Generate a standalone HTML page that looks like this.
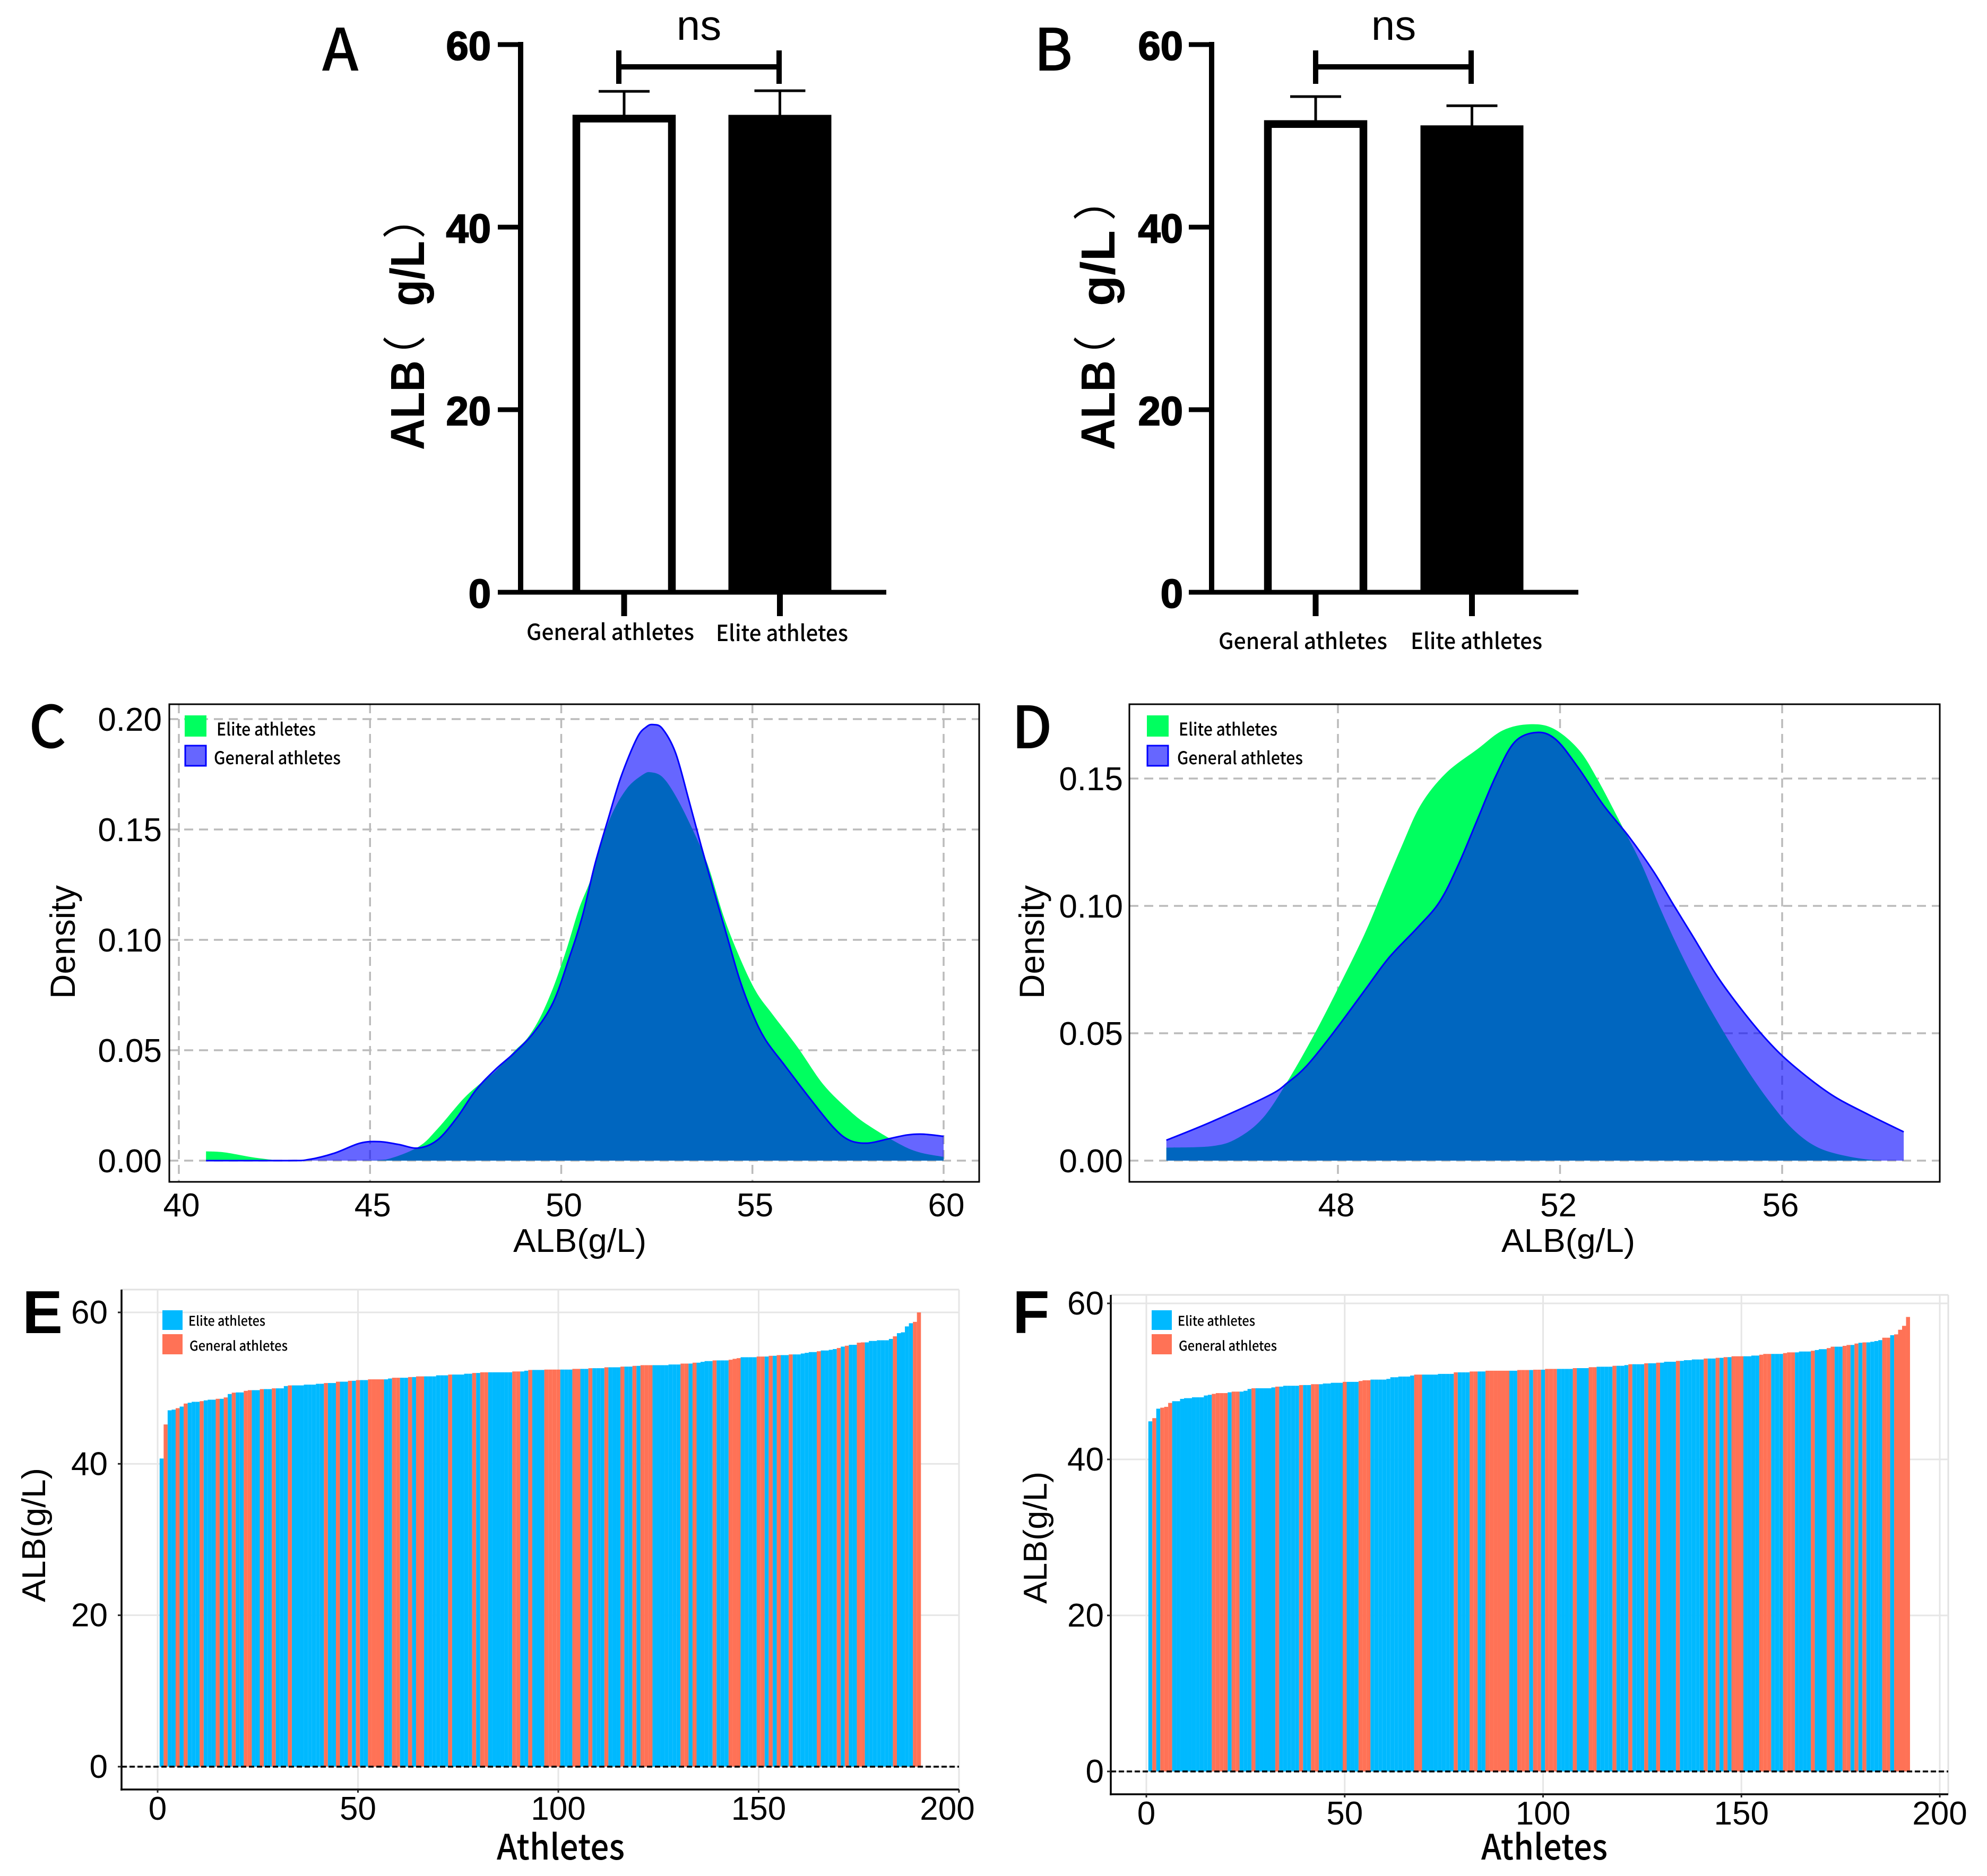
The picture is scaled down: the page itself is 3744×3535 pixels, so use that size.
<!DOCTYPE html>
<html lang="en">
<head>
<meta charset="utf-8">
<title>ALB comparison of elite and general athletes</title>
<style>
html,body{margin:0;padding:0;background:#fff;}
svg{display:block;}
text{fill:#000;}
.sans{font-family:"Liberation Sans",sans-serif;}
.boldlabel{font-family:"Liberation Sans","Noto Sans CJK SC",sans-serif;font-weight:700;}
.heavy{stroke:#000;stroke-width:2px;}
.paren{font-family:"Noto Sans CJK SC","Liberation Sans",sans-serif;font-weight:400;}
.noto{font-family:"Noto Sans CJK SC","Liberation Sans",sans-serif;font-weight:500;}
.letter{font-family:"Noto Sans CJK SC","Liberation Sans",sans-serif;font-weight:500;font-size:110px;}
.letterb{font-family:"Liberation Sans",sans-serif;font-weight:700;font-size:114px;}
</style>
</head>
<body>
<svg id="figure" xmlns="http://www.w3.org/2000/svg" width="3744" height="3535" viewBox="0 0 3744 3535">
  <rect x="0" y="0" width="3744" height="3535" fill="#fff"/>

  <g id="panelA">
    <text class="letter" x="607" y="133">A</text>
    <g>
      <text class="boldlabel" font-size="90" textLength="169" lengthAdjust="spacingAndGlyphs" transform="translate(799,848) rotate(-90)">ALB</text>
      <text class="paren" font-size="82" transform="translate(792,714) rotate(-90)">（</text>
      <text class="boldlabel" font-size="90" textLength="123" lengthAdjust="spacingAndGlyphs" transform="translate(799,577) rotate(-90)">g/L</text>
      <text class="paren" font-size="82" transform="translate(792,450) rotate(-90)">）</text>
    </g>
    <g id="marksA"></g>
    <text class="noto" font-size="42" x="992" y="1206" textLength="316" lengthAdjust="spacingAndGlyphs">General athletes</text>
    <text class="noto" font-size="42" x="1349" y="1208" textLength="249" lengthAdjust="spacingAndGlyphs">Elite athletes</text>
    <g>
      <line x1="1166" x2="1468" y1="126" y2="126" stroke="#000" stroke-width="10"/>
      <line x1="1166" x2="1166" y1="95" y2="158" stroke="#000" stroke-width="10"/>
      <line x1="1468" x2="1468" y1="95" y2="158" stroke="#000" stroke-width="10"/>
      <text class="sans" font-size="80" x="1317" y="75" text-anchor="middle">ns</text>
    </g>
  </g>

  <g id="panelB">
    <text class="letter" x="1948" y="133">B</text>
    <g>
      <text class="boldlabel" font-size="90" textLength="169" lengthAdjust="spacingAndGlyphs" transform="translate(2100,848) rotate(-90)">ALB</text>
      <text class="paren" font-size="82" transform="translate(2093,714) rotate(-90)">（</text>
      <text class="boldlabel" font-size="90" textLength="143" lengthAdjust="spacingAndGlyphs" transform="translate(2100,577) rotate(-90)">g/L</text>
      <text class="paren" font-size="82" transform="translate(2093,416) rotate(-90)">）</text>
    </g>
    <g id="marksB"></g>
    <text class="noto" font-size="42" x="2296" y="1223" textLength="318" lengthAdjust="spacingAndGlyphs">General athletes</text>
    <text class="noto" font-size="42" x="2658" y="1223" textLength="248" lengthAdjust="spacingAndGlyphs">Elite athletes</text>
    <g>
      <line x1="2479" x2="2772" y1="126" y2="126" stroke="#000" stroke-width="10"/>
      <line x1="2479" x2="2479" y1="95" y2="158" stroke="#000" stroke-width="10"/>
      <line x1="2772" x2="2772" y1="95" y2="158" stroke="#000" stroke-width="10"/>
      <text class="sans" font-size="80" x="2626" y="75" text-anchor="middle">ns</text>
    </g>
  </g>

  <g id="panelC">
    <text class="letter" x="54" y="1409">C</text>
    <g id="marksC"></g>
    <rect x="319" y="1327" width="1526" height="900" fill="none" stroke="#000" stroke-width="3"/>
    <text class="sans" font-size="62" x="967" y="2359" textLength="251" lengthAdjust="spacingAndGlyphs">ALB(g/L)</text>
    <text class="sans" font-size="66" textLength="214" lengthAdjust="spacingAndGlyphs" transform="translate(141,1882) rotate(-90)">Density</text>
    <g>
      <rect x="348" y="1348" width="41" height="40" fill="#00FF5F"/>
      <rect x="349" y="1405" width="39" height="38" fill="#6666FF" stroke="#0000FF" stroke-width="3"/>
      <text class="noto" font-size="33" x="408" y="1386" textLength="187" lengthAdjust="spacingAndGlyphs">Elite athletes</text>
      <text class="noto" font-size="33" x="403" y="1440" textLength="239" lengthAdjust="spacingAndGlyphs">General athletes</text>
    </g>
  </g>

  <g id="panelD">
    <text class="letter" x="1906" y="1410">D</text>
    <g id="marksD"></g>
    <rect x="2128" y="1327" width="1527" height="900" fill="none" stroke="#000" stroke-width="3"/>
    <text class="sans" font-size="62" x="2829" y="2359" textLength="252" lengthAdjust="spacingAndGlyphs">ALB(g/L)</text>
    <text class="sans" font-size="66" textLength="214" lengthAdjust="spacingAndGlyphs" transform="translate(1967,1882) rotate(-90)">Density</text>
    <g>
      <rect x="2161" y="1348" width="41" height="40" fill="#00FF5F"/>
      <rect x="2162" y="1405" width="39" height="38" fill="#6666FF" stroke="#0000FF" stroke-width="3"/>
      <text class="noto" font-size="33" x="2221" y="1386" textLength="186" lengthAdjust="spacingAndGlyphs">Elite athletes</text>
      <text class="noto" font-size="33" x="2218" y="1440" textLength="237" lengthAdjust="spacingAndGlyphs">General athletes</text>
    </g>
  </g>

  <g id="panelE">
    <text class="letterb" x="42" y="2512">E</text>
    <g id="marksE"></g>
    <text class="noto" font-size="66" x="936" y="3504" textLength="241" lengthAdjust="spacingAndGlyphs">Athletes</text>
    <text class="sans" font-size="62" textLength="253" lengthAdjust="spacingAndGlyphs" transform="translate(85,3019) rotate(-90)">ALB(g/L)</text>
    <g>
      <rect x="306" y="2469" width="38" height="37" fill="#00B9FF"/>
      <rect x="306" y="2514" width="38" height="38" fill="#FF7256"/>
      <text class="noto" font-size="25" x="355" y="2498" textLength="145" lengthAdjust="spacingAndGlyphs">Elite athletes</text>
      <text class="noto" font-size="25" x="357" y="2545" textLength="185" lengthAdjust="spacingAndGlyphs">General athletes</text>
    </g>
  </g>

  <g id="panelF">
    <text class="letterb" x="1908" y="2512">F</text>
    <g id="marksF"></g>
    <text class="noto" font-size="66" x="2791" y="3504" textLength="238" lengthAdjust="spacingAndGlyphs">Athletes</text>
    <text class="sans" font-size="62" textLength="249" lengthAdjust="spacingAndGlyphs" transform="translate(1972,3022) rotate(-90)">ALB(g/L)</text>
    <g>
      <rect x="2170" y="2469" width="38" height="37" fill="#00B9FF"/>
      <rect x="2170" y="2514" width="38" height="38" fill="#FF7256"/>
      <text class="noto" font-size="25" x="2219" y="2498" textLength="146" lengthAdjust="spacingAndGlyphs">Elite athletes</text>
      <text class="noto" font-size="25" x="2221" y="2545" textLength="185" lengthAdjust="spacingAndGlyphs">General athletes</text>
    </g>
  </g>
</svg>

<script>
/* ---------- Panels A / B data ---------- */
var meansA = [52.3, 52.3];
var errorTopsA = [54.88, 54.94];
var meansB = [51.7, 51.15];
var errorTopsB = [54.3, 53.3];
var barTickValues = [0, 20, 40, 60];
var barTickLabels = ['0', '20', '40', '60'];

/* ---------- Panel C density data ---------- */
var cEliteX = [40.71,41.21,42.05,42.89,44.74,45.42,46.26,46.76,47.43,47.86,48.28,48.78,49.12,49.45,49.79,50.13,50.46,50.77,50.97,51.3,51.72,52.14,52.35,52.65,52.99,53.41,53.83,54.25,54.67,55.09,55.51,56.18,56.85,57.53,58.03,58.87,59.38,60];
var cEliteY = [.0042,.0037,.0012,0,0,.0005,.0062,.0143,.0278,.0346,.0405,.0497,.0556,.0649,.0784,.0953,.1138,.1273,.1391,.156,.1686,.1749,.1759,.1737,.1653,.1509,.1341,.1105,.0919,.0767,.0666,.0514,.0346,.0228,.016,.0073,.0037,.0017];
var cGeneralX = [40.71,42.89,43.4,44.07,44.74,45.25,45.75,46.26,46.76,47.27,47.77,48.28,48.78,49.29,49.79,50.21,50.55,50.88,51.22,51.56,51.98,52.23,52.41,52.65,52.99,53.32,53.66,53.99,54.33,54.67,55,55.34,55.85,56.52,57.11,57.53,58,58.54,59.04,59.46,60];
var cGeneralY = [0,0,.0005,.0034,.0079,.0086,.0073,.0057,.0093,.0194,.032,.0413,.0489,.0582,.0717,.0919,.1105,.1341,.1543,.1737,.1914,.1965,.1975,.1956,.1847,.1644,.1425,.1223,.102,.0818,.0666,.0548,.043,.0278,.0152,.0093,.0079,.0098,.0116,.012,.011];
var cTicksX = [40,45,50,55,60];
var cTickLabelsX = ['40','45','50','55','60'];
var cTicksY = [0,.05,.1,.15,.2];
var cTickLabelsY = ['0.00','0.05','0.10','0.15','0.20'];

/* ---------- Panel D density data ---------- */
var dEliteX = [44.91,45.74,46.19,46.65,47.1,47.56,48.01,48.47,48.81,49.15,49.49,49.94,50.51,50.97,51.45,51.88,52.33,52.67,53.13,53.47,53.81,54.15,54.49,54.83,55.28,55.74,56.19,56.65,57.22,57.78,58.19];
var dEliteY = [.0051,.0057,.0088,.0168,.0314,.049,.068,.0885,.106,.1235,.1396,.152,.1615,.1689,.1713,.1696,.1615,.1499,.1308,.1162,.0987,.0826,.068,.0548,.0387,.0241,.0124,.0051,.0015,0,0];
var dGeneralX = [44.91,45.74,46.76,47.1,47.44,47.9,48.47,48.92,49.43,49.83,50.17,50.51,50.85,51.19,51.59,51.93,52.33,52.78,53.24,53.69,54.03,54.38,54.83,55.28,55.74,56.19,56.88,57.56,58.19];
var dGeneralY = [.008,.0154,.0256,.0307,.0373,.0497,.0665,.0797,.0914,.1016,.1162,.1338,.1513,.1645,.1681,.1652,.1542,.1396,.1272,.1133,.1009,.0885,.0724,.059,.047,.0375,.026,.018,.0113];
var dTicksX = [48,52,56];
var dTickLabelsX = ['48','52','56'];
var dTicksY = [0,.05,.1,.15];
var dTickLabelsY = ['0.00','0.05','0.10','0.15'];

/* ---------- Panel E ranked bars ---------- */
var eValues = [
40.7,45.2,47.07,47.16,47.35,47.56,47.96,48.07,48.19,48.19,
48.28,48.38,48.47,48.47,48.59,48.59,48.77,49.22,49.4,49.43,
49.43,49.64,49.73,49.73,49.73,49.87,49.87,49.87,49.97,49.97,
49.97,50.27,50.36,50.36,50.36,50.36,50.46,50.46,50.46,50.57,
50.57,50.67,50.67,50.67,50.85,50.85,50.85,50.97,50.97,51.06,
51.06,51.06,51.16,51.16,51.16,51.16,51.16,51.27,51.37,51.37,
51.37,51.37,51.46,51.46,51.55,51.55,51.55,51.55,51.55,51.69,
51.69,51.69,51.79,51.79,51.79,51.79,51.9,51.9,52,52,
52.09,52.09,52.09,52.09,52.09,52.09,52.09,52.09,52.2,52.2,
52.2,52.3,52.4,52.4,52.4,52.4,52.45,52.45,52.45,52.45,
52.45,52.45,52.45,52.54,52.54,52.54,52.54,52.63,52.63,52.63,
52.63,52.75,52.75,52.75,52.75,52.84,52.84,52.84,52.94,52.94,
53.03,53.03,53.03,53.03,53.03,53.03,53.03,53.12,53.12,53.12,
53.24,53.24,53.24,53.36,53.36,53.47,53.57,53.57,53.66,53.66,
53.66,53.66,53.75,53.87,53.96,54.08,54.08,54.08,54.08,54.17,
54.17,54.17,54.27,54.27,54.36,54.36,54.36,54.45,54.45,54.45,
54.57,54.66,54.76,54.76,54.87,54.97,54.97,55.06,55.16,55.3,
55.48,55.6,55.72,55.72,56,56.04,56.04,56.23,56.23,56.32,
56.32,56.32,56.5,56.84,57.26,57.37,58.15,58.57,58.75,60];
/* alternating group run lengths, starting with Elite */
var eGroupRuns = [1,1,2,1,1,1,3,1,3,1,1,1,1,1,2,2,2,1,2,1,3,1,8,1,2,1,2,1,1,1,2,4,2,2,2,1,1,2,6,1,5,1,1,2,6,2,2,1,3,4,3,2,2,1,3,1,3,1,2,1,1,3,7,2,1,1,4,1,3,3,4,2,1,1,1,1,2,1,6,1,4,1,1,1,2,2,7,1,4,2];

/* ---------- Panel F ranked bars ---------- */
var fValues = [
44.88,45.29,46.5,46.63,46.74,47.24,47.46,47.46,47.76,47.85,
47.85,47.96,47.96,47.96,48.19,48.28,48.4,48.5,48.5,48.5,
48.6,48.69,48.69,48.69,48.8,49.03,49.12,49.12,49.12,49.12,
49.12,49.23,49.33,49.33,49.44,49.44,49.44,49.44,49.53,49.53,
49.53,49.64,49.64,49.64,49.73,49.73,49.82,49.82,49.82,49.94,
49.94,49.94,49.94,50.05,50.14,50.14,50.23,50.23,50.23,50.23,
50.32,50.53,50.53,50.62,50.62,50.62,50.75,50.87,50.87,50.87,
50.87,50.87,50.87,50.96,50.96,50.96,50.96,51.16,51.16,51.16,
51.16,51.27,51.27,51.27,51.27,51.37,51.37,51.37,51.37,51.37,
51.37,51.37,51.37,51.46,51.46,51.46,51.46,51.5,51.5,51.5,
51.6,51.6,51.6,51.6,51.6,51.6,51.6,51.7,51.7,51.7,
51.7,51.82,51.82,51.88,51.88,51.88,51.88,52,52,52,
52.09,52.2,52.2,52.2,52.2,52.32,52.32,52.32,52.4,52.4,
52.52,52.52,52.52,52.63,52.63,52.72,52.72,52.81,52.81,52.81,
52.93,52.93,52.93,53.02,53.02,53.11,53.11,53.22,53.22,53.22,
53.22,53.22,53.31,53.31,53.42,53.52,53.52,53.52,53.52,53.52,
53.63,53.72,53.72,53.72,53.83,53.83,53.83,53.93,54.02,54.13,
54.13,54.27,54.45,54.45,54.45,54.56,54.67,54.67,54.85,54.95,
55,55,55.08,55.17,55.29,55.6,55.6,55.92,56.03,56.62,57.12,58.26];
var fGroupRuns = [1,1,1,3,10,4,1,2,3,1,5,1,5,1,2,2,6,1,3,3,11,2,8,1,3,2,2,6,2,3,1,2,1,3,4,1,3,2,4,1,3,1,3,1,2,1,4,1,6,1,2,1,1,1,1,3,4,3,3,3,4,1,3,2,2,2,1,1,1,1,4,2,1,4];
var rankTicksX = [0,50,100,150,200];
var rankTickLabelsX = ['0','50','100','150','200'];
var rankTicksY = [0,20,40,60];
var rankTickLabelsY = ['0','20','40','60'];

/* ---------- helpers ---------- */
var SVG_NS = 'http://www.w3.org/2000/svg';
function make(tag, parentId, attrs) {
  var node = document.createElementNS(SVG_NS, tag);
  for (var key in attrs) { node.setAttribute(key, attrs[key]); }
  document.getElementById(parentId).appendChild(node);
  return node;
}
function scale(d0, r0, d1, r1) {
  return function (v) { return r0 + (v - d0) * (r1 - r0) / (d1 - d0); };
}
function smoothPath(xs, ys, sx, sy) {
  var pts = xs.map(function (x, i) { return [sx(x), sy(ys[i])]; });
  var d = 'M' + pts[0][0].toFixed(1) + ' ' + pts[0][1].toFixed(1);
  for (var i = 0; i < pts.length - 1; i++) {
    var p0 = pts[Math.max(i - 1, 0)], p1 = pts[i], p2 = pts[i + 1], p3 = pts[Math.min(i + 2, pts.length - 1)];
    var c1x = p1[0] + (p2[0] - p0[0]) / 6, c1y = Math.min(sy(0), p1[1] + (p2[1] - p0[1]) / 6);
    var c2x = p2[0] - (p3[0] - p1[0]) / 6, c2y = Math.min(sy(0), p2[1] - (p3[1] - p1[1]) / 6);
    d += 'C' + c1x.toFixed(1) + ' ' + c1y.toFixed(1) + ' ' + c2x.toFixed(1) + ' ' + c2y.toFixed(1) + ' ' + p2[0].toFixed(1) + ' ' + p2[1].toFixed(1);
  }
  return d;
}

/* ---------- Panels A / B: bars with error bars ---------- */
function drawBarPanel(id, means, errorTops, axisX, tickLeft, axisRight, labelRight, centers) {
  var y = scale(0, 1116, 60, 84);
  var parent = 'marks' + id;
  var k;
  for (k = 0; k < means.length; k++) {
    var top = y(means[k]);
    var errTop = y(errorTops[k]);
    var err = make('line', parent, {x1: centers[k], x2: centers[k], y1: errTop, y2: top + 2, stroke: '#000', 'stroke-width': 5});
    
    
    var cap = make('line', parent, {x1: centers[k] - 48, x2: centers[k] + 48, y1: errTop, y2: errTop, stroke: '#000', 'stroke-width': 5});
    
    
    var bar = k === 0
      ? make('path', parent, {d: 'M' + (centers[k] - 90) + ' ' + y(0) + 'V' + (top + 7) + 'H' + (centers[k] + 90) + 'V' + y(0), fill: '#fff', stroke: '#000', 'stroke-width': 14.5})
      : make('rect', parent, {x: centers[k] - 97, y: top, width: 194, height: y(0) - top, fill: '#000'});
    
    
    var xt = make('line', parent, {x1: centers[k], x2: centers[k], y1: y(0), y2: 1161, stroke: '#000', 'stroke-width': 11});
    
    
  }
  var yAxis = make('line', parent, {x1: axisX, x2: axisX, y1: y(60) - 5, y2: y(0) + 4, stroke: '#000', 'stroke-width': 10});
  
  
  var xAxis = make('line', parent, {x1: tickLeft, x2: axisRight, y1: y(0), y2: y(0), stroke: '#000', 'stroke-width': 9});
  
  
  for (k = 0; k < barTickValues.length; k++) {
    var ty = y(barTickValues[k]);
    var tick = make('line', parent, {x1: tickLeft, x2: axisX, y1: ty, y2: ty, stroke: '#000', 'stroke-width': 9});
    
    
    var lab = make('text', parent, {x: labelRight, y: ty + 29, 'text-anchor': 'end', 'font-size': 76, 'class': 'boldlabel heavy'});
    lab.textContent = barTickLabels[k];
    
    
  }
}
drawBarPanel('A', meansA, errorTopsA, 981, 938, 1670, 925, [1176, 1469.5]);
drawBarPanel('B', meansB, errorTopsB, 2283, 2240, 2974, 2229, [2479, 2773.5]);

/* ---------- Panels C / D: densities ---------- */
function drawDensityPanel(id, box, sx, sy, tx, txl, ty, tyl, labelDx, yLabelRight, eX, eY, gX, gY) {
  var parent = 'marks' + id;
  var i;
  for (i = 0; i < tx.length; i++) {
    var gv = make('line', parent, {x1: sx(tx[i]), x2: sx(tx[i]), y1: box.top, y2: box.bottom, stroke: '#bbbbbb', 'stroke-width': 3.5, 'stroke-dasharray': '17 11'});
    
    
    var xl = make('text', parent, {x: sx(tx[i]) + labelDx, y: box.bottom + 65, 'text-anchor': 'middle', 'font-size': 62, 'class': 'sans'});
    xl.textContent = txl[i];
    
    
  }
  for (i = 0; i < ty.length; i++) {
    var gh = make('line', parent, {x1: box.left, x2: box.right, y1: sy(ty[i]), y2: sy(ty[i]), stroke: '#bbbbbb', 'stroke-width': 3.5, 'stroke-dasharray': '17 11'});
    
    
    var yl = make('text', parent, {x: yLabelRight, y: sy(ty[i]) + 22, 'text-anchor': 'end', 'font-size': 62, 'class': 'sans'});
    yl.textContent = tyl[i];
    
    
  }
  var base = sy(0);
  var eLine = smoothPath(eX, eY, sx, sy);
  var gLine = smoothPath(gX, gY, sx, sy);
  var eArea = make('path', parent, {d: eLine + 'L' + sx(eX[eX.length - 1]) + ' ' + base + 'L' + sx(eX[0]) + ' ' + base + 'Z', fill: '#00FF5F'});
  
  
  var gArea = make('path', parent, {d: gLine + 'L' + sx(gX[gX.length - 1]) + ' ' + base + 'L' + sx(gX[0]) + ' ' + base + 'Z', fill: '#0000FF', 'fill-opacity': 0.6});
  
  
  var gStroke = make('path', parent, {d: gLine, fill: 'none', stroke: '#0000FF', 'stroke-width': 3});
  
  
}
drawDensityPanel('C', {left: 319, right: 1845, top: 1327, bottom: 2227}, scale(40, 337, 60, 1778), scale(0, 2187, 0.2, 1355), cTicksX, cTickLabelsX, cTicksY, cTickLabelsY, 5, 305, cEliteX, cEliteY, cGeneralX, cGeneralY);
drawDensityPanel('D', {left: 2128, right: 3655, top: 1327, bottom: 2227}, scale(48, 2521, 56, 3358), scale(0, 2187, 0.15, 1467), dTicksX, dTickLabelsX, dTicksY, dTickLabelsY, -3, 2116, dEliteX, dEliteY, dGeneralX, dGeneralY);

/* ---------- Panels E / F: ranked bars ---------- */
function drawRankPanel(id, values, runs, sx, sy, box, yLabelRight, labelMax) {
  var parent = 'marks' + id;
  var i;
  var topEdge = make('line', parent, {x1: box.left, x2: box.right, y1: box.top, y2: box.top, stroke: '#e2e2e2', 'stroke-width': 3});
  
  
  var rightEdge = make('line', parent, {x1: box.right, x2: box.right, y1: box.top, y2: box.bottom, stroke: '#e2e2e2', 'stroke-width': 3});
  
  
  for (i = 0; i < rankTicksY.length; i++) {
    var gh = make('line', parent, {x1: box.left, x2: box.right, y1: sy(rankTicksY[i]), y2: sy(rankTicksY[i]), stroke: '#e6e6e6', 'stroke-width': 3});
    
    
  }
  for (i = 0; i < rankTicksX.length; i++) {
    var gv = make('line', parent, {x1: sx(rankTicksX[i]), x2: sx(rankTicksX[i]), y1: box.top, y2: box.bottom, stroke: '#e6e6e6', 'stroke-width': 3});
    
    
  }
  var groups = [];
  runs.forEach(function (count, r) {
    for (var c = 0; c < count; c++) { groups.push(r % 2 === 0 ? 'elite' : 'general'); }
  });
  for (i = 0; i < values.length; i++) {
    var barLeft = sx(i + 0.5);
    var bar = make('rect', parent, {x: barLeft, y: sy(values[i]), width: sx(i + 1.5) - barLeft, height: sy(0) - sy(values[i]), fill: groups[i] === 'elite' ? '#00B9FF' : '#FF7256'});
    
    
  }
  var zero = make('line', parent, {x1: box.left, x2: box.right, y1: sy(0), y2: sy(0), stroke: '#000', 'stroke-width': 3.5, 'stroke-dasharray': '10 5'});
  
  
  var xAxis = make('line', parent, {x1: box.left - 2, x2: box.right, y1: box.bottom, y2: box.bottom, stroke: '#000', 'stroke-width': 3.5});
  
  
  var yAxis = make('line', parent, {x1: box.left, x2: box.left, y1: box.top, y2: box.bottom + 2, stroke: '#000', 'stroke-width': 3.5});
  
  
  for (i = 0; i < rankTicksY.length; i++) {
    var yt = make('line', parent, {x1: box.left - 7, x2: box.left, y1: sy(rankTicksY[i]), y2: sy(rankTicksY[i]), stroke: '#222', 'stroke-width': 3});
    
    
    var yl = make('text', parent, {x: yLabelRight, y: sy(rankTicksY[i]) + 21, 'text-anchor': 'end', 'font-size': 62, 'class': 'sans'});
    yl.textContent = rankTickLabelsY[i];
    
    
  }
  for (i = 0; i < rankTicksX.length; i++) {
    var xt = make('line', parent, {x1: sx(rankTicksX[i]), x2: sx(rankTicksX[i]), y1: box.bottom, y2: box.bottom + 6, stroke: '#222', 'stroke-width': 3});
    
    
    var xl = make('text', parent, {x: Math.min(sx(rankTicksX[i]), labelMax), y: box.bottom + 57, 'text-anchor': 'middle', 'font-size': 62, 'class': 'sans'});
    xl.textContent = rankTickLabelsX[i];
    
    
  }
}
drawRankPanel('E', eValues, eGroupRuns, scale(0, 297, 200, 1807), scale(0, 3329, 60, 2473), {left: 229, right: 1807, top: 2430, bottom: 3372}, 203, 1785);
drawRankPanel('F', fValues, fGroupRuns, scale(0, 2160, 200, 3655), scale(0, 3338, 60, 2456), {left: 2093, right: 3671, top: 2440, bottom: 3381}, 2080, 3662);
</script>
</body>
</html>
